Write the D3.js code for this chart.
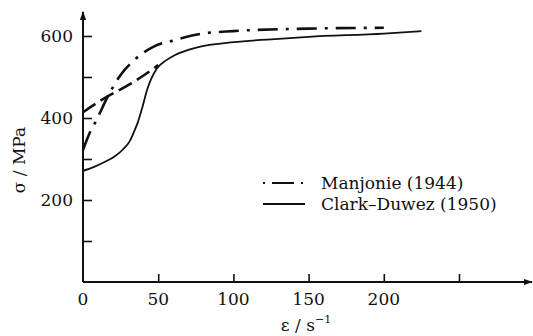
<!DOCTYPE html>
<html><head><meta charset="utf-8">
<script src="https://cdn.jsdelivr.net/npm/d3@7"></script>
<style>body{margin:0;background:#fff}svg{display:block}</style>
</head><body>
<script>
const xTicks = [0, 50, 100, 150, 200, 250];
const xTickLabels = ["0", "50", "100", "150", "200", ""];
const yTicks = [100, 200, 300, 400, 500, 600];
const yTickLabels = ["", "200", "", "400", "", "600"];
const manjonieX = [0, 4, 9, 16, 25, 34, 47, 61, 78, 100, 150, 200];
const manjonieY = [322, 360, 395, 449, 505, 541, 574, 590, 605, 612, 618, 620];
const dashedX = [0, 8, 16, 23, 30, 40, 50];
const dashedY = [414, 434, 452, 466, 480, 503, 529];
const clarkX = [0, 7, 14, 21, 27, 31, 34, 36.5, 39, 43, 49, 55, 61, 70, 78, 100, 125, 150, 200, 225];
const clarkY = [271, 280, 292, 306, 325, 343, 367, 390, 420, 473, 520, 540, 553, 566, 574, 585, 592, 598, 606, 612];
const legendLabels = ["Manjonie (1944)", "Clark\u2013Duwez (1950)"];

const FONT = '"DejaVu Serif", "Liberation Serif", serif';
const W = 533, H = 336;
const svg = d3.select("body").append("svg").attr("width", W).attr("height", H)
  .attr("font-family", FONT);
const x = d3.scaleLinear().domain([0, 250]).range([83, 459]);
const y = d3.scaleLinear().domain([0, 600]).range([282, 36]);
const ink = "#111";

svg.append("defs").append("marker").attr("id", "arr").attr("viewBox", "0 0 10 10")
  .attr("refX", 9).attr("refY", 5).attr("markerWidth", 9).attr("markerHeight", 9)
  .attr("markerUnits", "userSpaceOnUse").attr("orient", "auto")
  .append("path").attr("d", "M0,1.5 L10,5 L0,8.5 Z").attr("fill", ink);

svg.append("line").attr("x1", x(0)).attr("y1", y(0)).attr("x2", 532).attr("y2", y(0))
  .attr("stroke", ink).attr("stroke-width", 2).attr("marker-end", "url(#arr)");
svg.append("line").attr("x1", x(0)).attr("y1", y(0)).attr("x2", x(0)).attr("y2", 12)
  .attr("stroke", ink).attr("stroke-width", 2).attr("marker-end", "url(#arr)");

const xa = svg.append("g").attr("transform", `translate(0,${y(0)})`)
  .call(d3.axisTop(x).tickValues(xTicks.slice(1)).tickSize(8).tickFormat(""));
xa.select(".domain").remove();
xa.selectAll("line").attr("stroke", ink).attr("stroke-width", 1.6);
svg.selectAll(".xl").data(xTicks).enter().append("text")
  .attr("x", d => x(d)).attr("y", 305).attr("text-anchor", "middle").attr("fill", ink)
  .attr("font-size", 17).text((d, i) => xTickLabels[i]);

const ya = svg.append("g").attr("transform", `translate(${x(0)},0)`)
  .call(d3.axisRight(y).tickValues(yTicks).tickSize(9).tickFormat(""));
ya.select(".domain").remove();
ya.selectAll("line").attr("stroke", ink).attr("stroke-width", 1.6);
svg.selectAll(".yl").data(yTicks).enter().append("text")
  .attr("x", 73).attr("y", d => y(d) + 6).attr("text-anchor", "end").attr("fill", ink)
  .attr("font-size", 17).text((d, i) => yTickLabels[i]);

svg.append("text").attr("transform", "translate(25,160) rotate(-90)").attr("fill", ink)
  .attr("text-anchor", "middle").attr("font-size", 17).text("\u03c3 / MPa");
const xt = svg.append("text").attr("x", 306).attr("y", 331).attr("text-anchor", "middle")
  .attr("font-size", 17).attr("fill", ink);
xt.append("tspan").text("\u03b5 / s");
xt.append("tspan").attr("dy", -8).attr("font-size", 11).text("\u22121");

const line = d3.line().x(d => x(d[0])).y(d => y(d[1])).curve(d3.curveMonotoneX);
const zip = (a, b) => a.map((v, i) => [v, b[i]]);

svg.append("path").attr("d", line(zip(clarkX, clarkY))).attr("fill", "none")
  .attr("stroke", ink).attr("stroke-width", 1.8);
svg.append("path").attr("d", line(zip(dashedX, dashedY))).attr("fill", "none")
  .attr("stroke", ink).attr("stroke-width", 2.6).attr("stroke-dasharray", "15,6");
svg.append("path").attr("d", line(zip(manjonieX, manjonieY))).attr("fill", "none")
  .attr("stroke", ink).attr("stroke-width", 2.6).attr("stroke-dasharray", "20,8,3,8");

const lg = svg.append("g");
lg.append("line").attr("x1", 263).attr("x2", 305).attr("y1", 183).attr("y2", 183)
  .attr("stroke", ink).attr("stroke-width", 1.8).attr("stroke-dasharray", "2,7,22,7,2");
lg.append("line").attr("x1", 263).attr("x2", 305).attr("y1", 204).attr("y2", 204)
  .attr("stroke", ink).attr("stroke-width", 1.8);
lg.selectAll("text").data(legendLabels).enter().append("text").attr("fill", ink)
  .attr("x", 321).attr("y", (d, i) => 189 + i * 21).attr("font-size", 17).text(d => d);
</script>
</body></html>
